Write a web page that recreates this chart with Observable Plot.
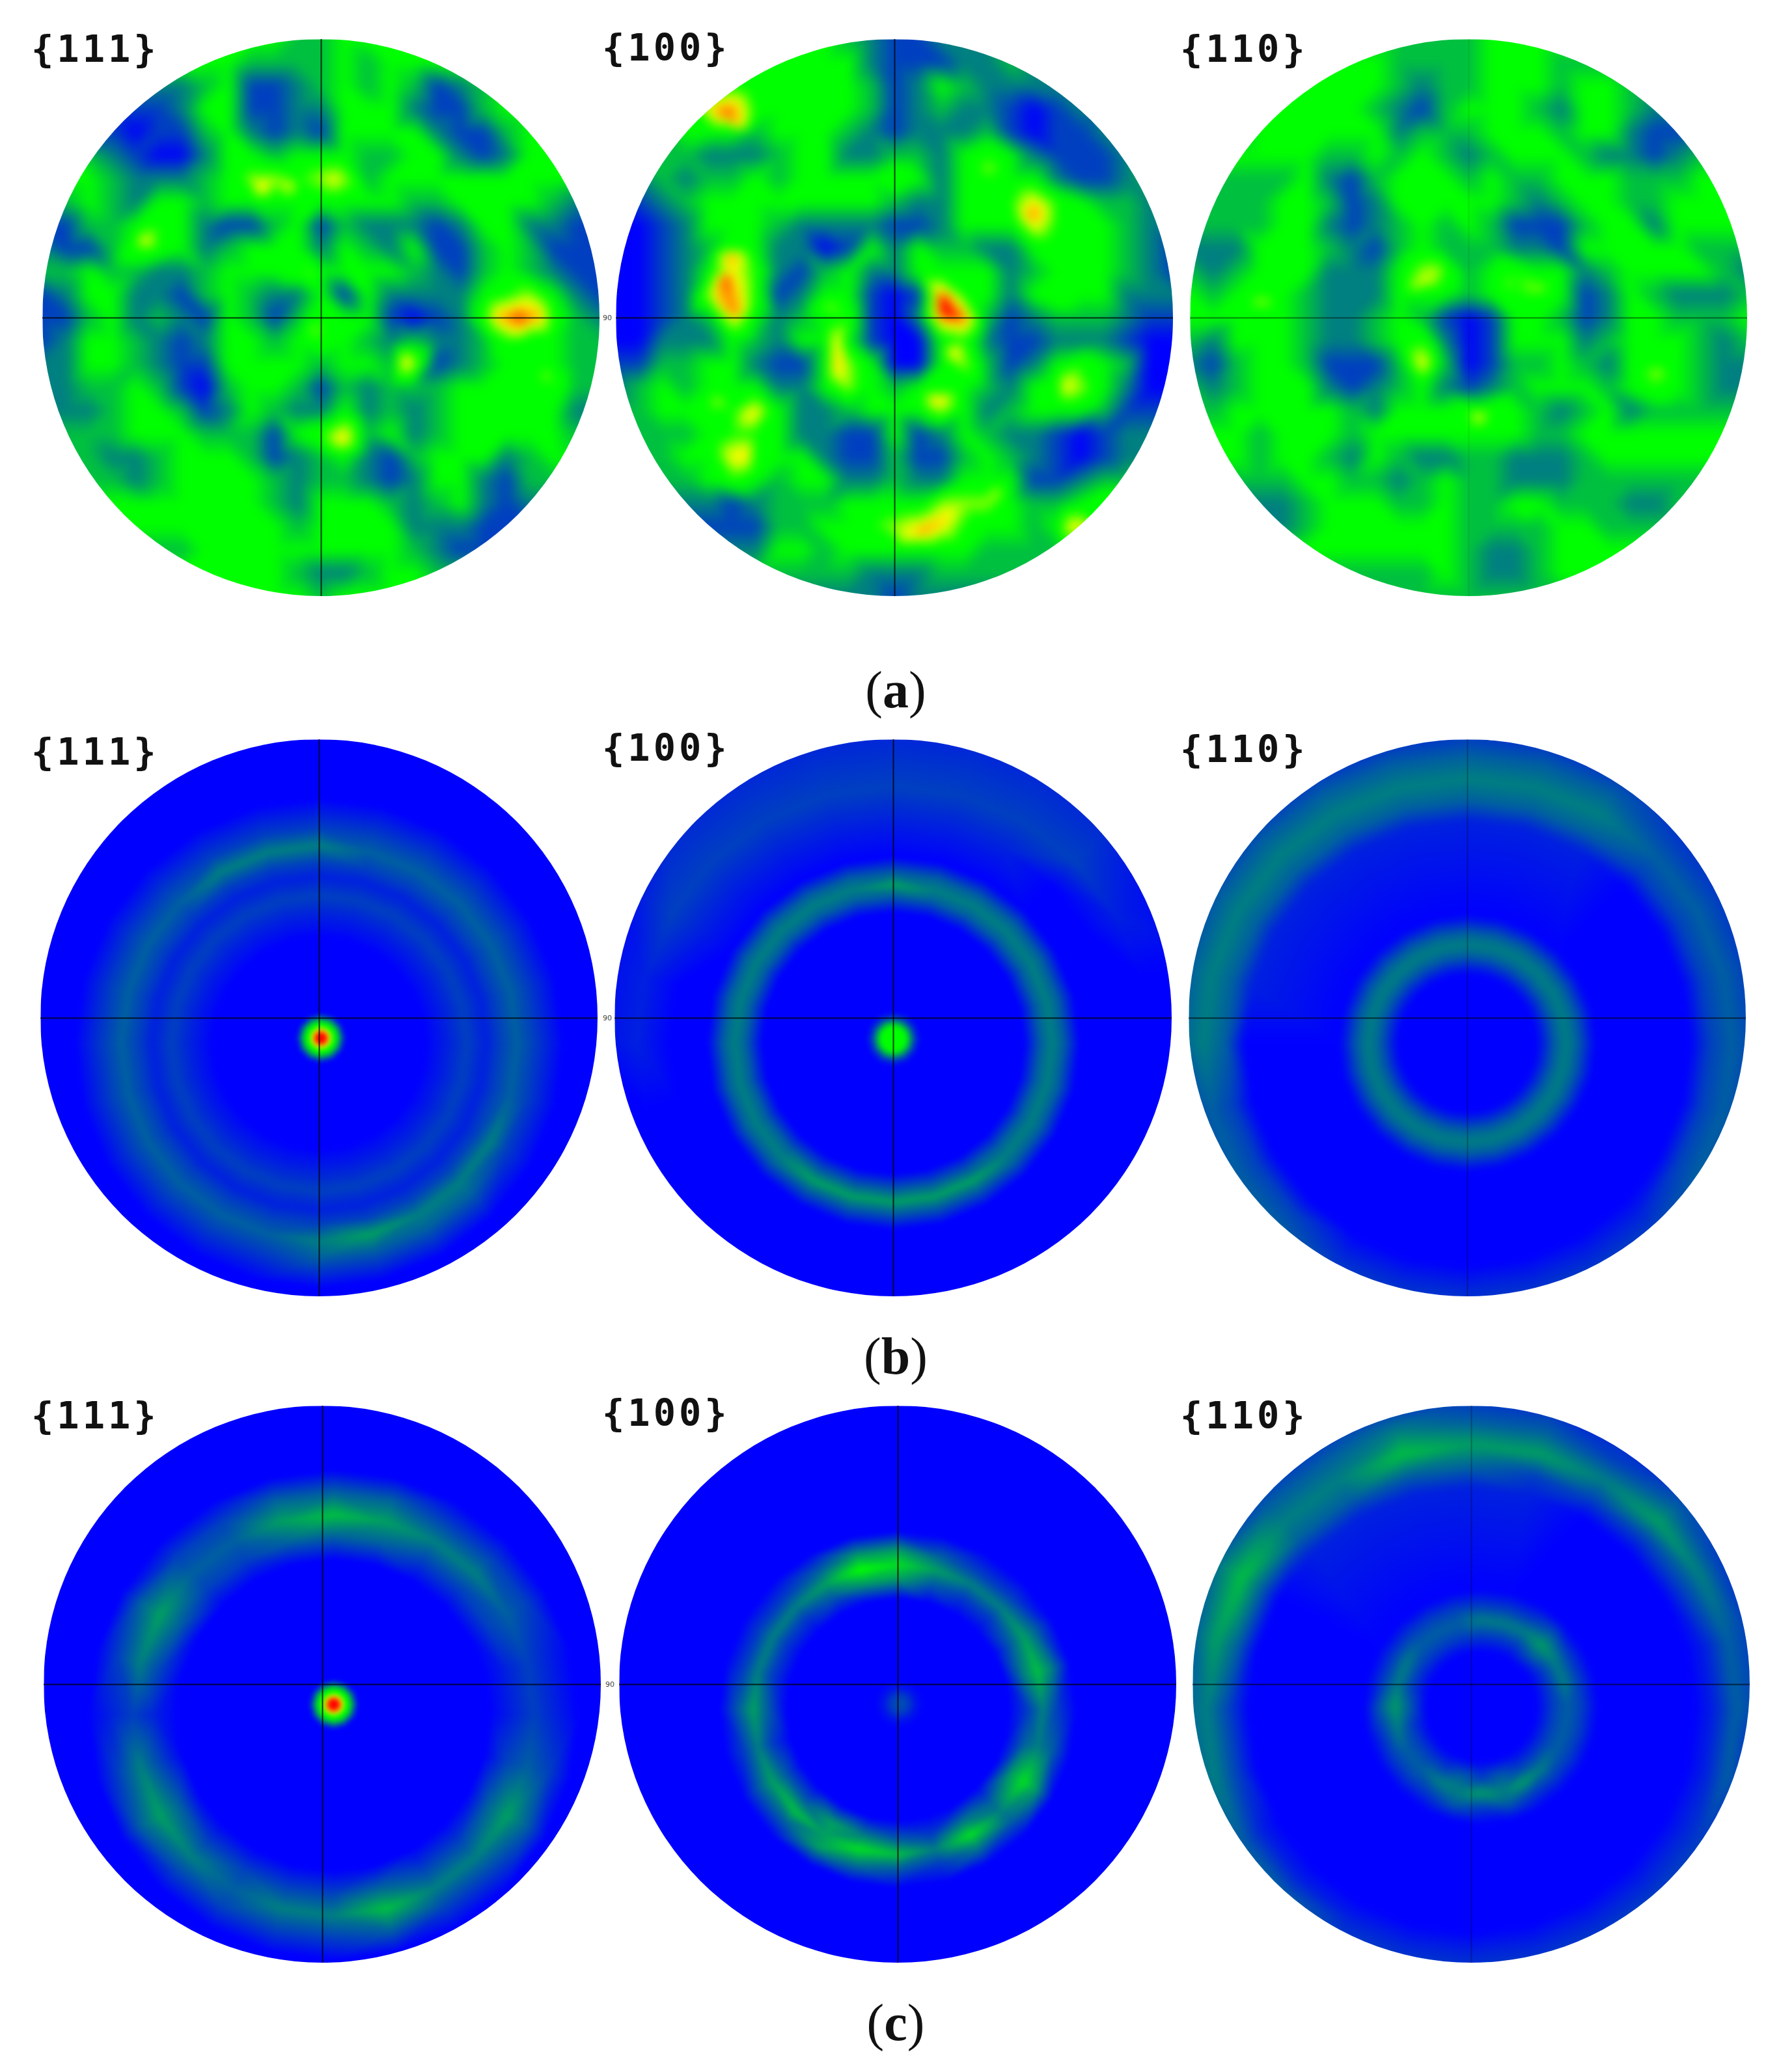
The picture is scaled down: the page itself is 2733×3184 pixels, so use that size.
<!DOCTYPE html>
<html><head><meta charset="utf-8">
<script src="https://cdn.jsdelivr.net/npm/d3@7"></script>
<script src="https://cdn.jsdelivr.net/npm/@observablehq/plot@0.6"></script>
<style>
html,body{margin:0;padding:0;background:#fff}
#page{position:relative;width:2733px;height:3184px;overflow:hidden;background:#fff}
.disc{position:absolute}
.disc svg{display:block;clip-path:circle(50%);background:transparent}
.lab{position:absolute;font-family:"DejaVu Sans Mono",monospace;font-weight:700;font-size:57px;letter-spacing:5px;color:#111;line-height:1;white-space:pre}
.cap{position:absolute;font-family:"Liberation Serif",serif;font-size:80px;color:#111;line-height:1;transform:translate(-50%,-50%);white-space:pre}
.tick{position:absolute;font-family:"DejaVu Sans",sans-serif;font-size:11px;color:#444;line-height:1;transform:translateY(-50%)}
</style></head><body><div id="page"></div>
<script>
// Level scale: 0 blue ... 2 teal ... 4-5 green ... 7 yellow ... 9 red
const levelDomain=[0,1,2,3,4,5,6,7,8,9];
const levelColors=["#0000ff","#0040c0","#008080","#00c040","#00ff00","#00ff00","#90ff00","#ffff00","#ff9000","#ff0000"];

// (a) intensity levels read on a 25 x 25 grid, top row first
const a111=[
"4444444444433444444444444","4444444443333434444444444","2222222341123434312344444",
"1111112441122444211344444","1111011342121444421134444","4432100244344433442124444",
"4443222346656634444444444","3343244344444444334444322","1133454211341322212442211",
"2113554234442432411343111","3343322344454444321343211","1244221343224142222456421",
"1134232143135441012588532","1244321244345432322354433","2244321144443443612344433",
"2233431034431323334444533","2223443124322423234444422","3333444333145734234444433",
"3332234443123421344423444","3333234444323321244213333","4444444444324443234212222",
"4444444444434444222111111","3333333444444444321111111","4444444444432234433333333",
"4444444444443444444444444"];
const a100=[
"4444444444321122222222222","4444444444421112232222222","4444454444431243222222222",
"4444785444431232210122222","3334443444321222310112222","3333222344223324542111222",
"2232334344445424544211233","1123444444443224457543322","0012444322221124447544322",
"0012354220142433224454321","0012475213422444423454321","0012685124410185424544222",
"0012374234510288312333211","0022243244410045211222100","1133442114640046312454300",
"2343444224643444324564200","3344557422344464234443111","3333455422114124322101222",
"3334475442113113432101222","3333454344223224441123333","2222212333444466643345444",
"1111111334456775443475444","2222222443444444333333333","3333333333322233333333333",
"2222222222221222222222222"];
const a110=[
"3333333333333444444444444","4444444443333444333333333","4444444443233444344333333",
"4444444432134443244322222","3334444442333444344211111","4444443343432344432212333",
"3333342134443433444333444","3333443124444432344334444","3333442123434311134424444",
"2224443213433322144444333","3234442224653454423444432","4345432224443455412432223",
"4444432234310144312443334","3244432234520144423444323","2134431113730133432454322",
"3234442123421234443454322","3344444324445543234233333","4443444344444443344444444",
"4443443243223322234444444","3333344332343322233333333","2222234443343344333223333",
"2222234444443333443333333","4444444444443223444444444","3333333333343223444444444",
"3333333333333333333333333"];

// (a) peak readings: x, y on the disc (-1..1) and level
const a111Peaks=[[-.215,.467,7.4],[-.107,.467,6.6],[.047,.494,6.9],[-.638,.266,7],[.711,.004,8.8],[.65,.004,8],[.77,.004,8],[.711,.05,7],[.711,-.05,7],[.306,-.157,7.4],[.078,-.43,7.6],[.812,-.204,5.9],[-.02,-.043,5.9],[-.034,.158,5.5]];
const a100Peaks=[[-.612,.736,8.5],[-.56,.69,7.5],[-.605,.145,8.7],[-.59,.22,8],[-.63,.06,7.5],[-.572,.017,8.2],[.166,.078,9],[.2,.017,9.3],[.17,.03,9],[.24,.0,8.5],[.495,.373,8.2],[.213,-.123,7.4],[-.209,-.17,7.6],[-.21,-.1,7.2],[.153,-.298,7.6],[.616,-.244,7],[-.505,-.338,7.4],[-.646,-.298,6],[-.538,-.493,7.4],[.099,-.761,8.1],[.18,-.72,7.4],[.03,-.79,6.6],[.361,-.627,6.2],[.636,-.754,7.2],[.341,.534,5.8],[-.236,.038,5.8]];
const a110Peaks=[[-.15,.138,6.6],[-.11,.17,6.2],[-.19,.11,6.2],[-.738,.062,6],[.252,.102,5.9],[.142,.125,5.6],[-.166,-.157,6.9],[.027,-.352,6.7],[.675,-.197,6],[.199,-.68,4.5]];

// (b),(c) ring tables: radius from ring centre, then half-levels at 24 bearings (15 degree steps, anticlockwise from east)
const zero="000000000000000000000000";
const b111=[[.38,zero],[.46,"111111111111111111111111"],[.53,"222222222222222222222222"],[.60,"111111111111111111111111"],
 [.65,"222222222222222222222222"],[.71,"333333444333333333454443"],[.77,"222222222222222222333322"],[.88,zero],[1.15,zero]];
const b100=[[.47,zero],[.53,"333333333333333333333333"],[.57,"444444544444444455555444"],[.61,"333333333333333333333333"],[.67,zero],
 [.80,"000011111110000000000000"],[.92,"001222222221100000000000"],[1.15,"000111111100000000000000"]];
const b110=[[.25,zero],[.315,"333333333333333333333333"],[.355,"444444444444444444444444"],[.395,"333333333333333333333333"],[.46,zero],
 [.80,"000011111111000000000000"],[.87,"222233333333322211111122"],[.95,"333344444444433322222233"],[1.03,"222233333333322211111122"],[1.15,"111111111111111111111111"]];
const c111=[[.56,zero],[.64,"112223332232123222232232"],[.72,"223445653354245434464453"],[.80,"112223332232123222232232"],[.88,zero],[1.15,zero]];
const c100=[[.40,zero],[.47,"243223553222323354324353"],[.52,"465445785444545657647474"],[.57,"243223553222323354324353"],[.64,zero],[1.15,zero]];
const c110=[[.20,zero],[.26,"222322222222322223232222"],[.31,"344544433344543344545433"],[.36,"222322222222322223232222"],[.42,zero],
 [.80,"000001111100000000000000"],[.87,"112222333333221111111111"],[.95,"334545564465443322222223"],[1.03,"222323343343332211111111"],[1.15,"111111111111111111111111"]];

// hot spots: radius from the spot centre and level
const spot111b=[[0,9.3],[.015,9.2],[.028,7.8],[.04,5.4],[.055,4],[.07,2.2],[.09,0]];
const spot100b=[[0,4.6],[.03,4.4],[.045,4],[.06,2.6],[.08,.8],[.1,0]];
const spot111c=[[0,9.3],[.015,9.2],[.028,7.8],[.04,5.4],[.055,4],[.07,2.2],[.09,0]];
const spot100c=[[0,1.3],[.03,1],[.06,.3],[.09,0]];

const labels=["{111}","{100}","{110}"];
const captions=["a","b","c"];
const rimMark="90";

// page layout
const R=428;
const discs=[
 {grid:a111,peaks:a111Peaks,cx:493,cy:488,v:1,h:1,lab:[48,47],name:0},
 {grid:a100,peaks:a100Peaks,cx:1374,cy:488,v:1,h:1,lab:[925,45],name:1},
 {grid:a110,peaks:a110Peaks,cx:2256,cy:488,v:.12,h:.6,lab:[1813,47],name:2},
 {rings:b111,ringAt:[0,-.09],spot:spot111b,spotAt:[.006,-.072],cx:490,cy:1564,v:1,h:1,lab:[48,1127],name:0},
 {rings:b100,ringAt:[0,-.09],spot:spot100b,spotAt:[0,-.075],cx:1372,cy:1564,v:1,h:1,lab:[925,1121],name:1},
 {rings:b110,ringAt:[0,-.09],cx:2254,cy:1564,v:.35,h:.8,lab:[1813,1123],name:2},
 {rings:c111,ringAt:[.04,-.11],spot:spot111c,spotAt:[.04,-.072],cx:495,cy:2588,v:1,h:1,lab:[48,2147],name:0},
 {rings:c100,ringAt:[0,-.09],spot:spot100c,spotAt:[.005,-.07],cx:1379,cy:2588,v:1,h:1,lab:[925,2143],name:1},
 {rings:c110,ringAt:[.035,-.08],outerAt:[0,-.09],cx:2260,cy:2588,v:.35,h:.8,lab:[1813,2147],name:2}
];
const capPos=[[1376,1060],[1376,2084],[1376,3108]];
const rimPos=[[926,488],[926,1564],[930,2588]];

function gridPoints(grid){
  const out=[];
  grid.forEach((row,j)=>{for(let i=0;i<row.length;i++)out.push({x:-1+i/12,y:1-j/12,v:+row[i]});});
  return out;
}
function ringPoints(table,[cx,cy],outerAt){
  const out=[];
  for(const [r,s] of table){
    const c=(outerAt&&r>.6)?outerAt:[cx,cy];
    for(let k=0;k<24;k++){
      const t=k*Math.PI/12;
      out.push({x:c[0]+r*Math.cos(t),y:c[1]+r*Math.sin(t),v:+s[k]/2});
    }
  }
  return out;
}
function spotPoints(table,[cx,cy]){
  const out=[];
  for(const [r,v] of table){
    if(r===0){out.push({x:cx,y:cy,v});continue;}
    for(let k=0;k<12;k++){const t=k*Math.PI/6;out.push({x:cx+r*Math.cos(t),y:cy+r*Math.sin(t),v});}
  }
  return out;
}

const page=document.getElementById("page");
for(const d of discs){
  let pts;
  if(d.grid) pts=gridPoints(d.grid).concat(d.peaks.map(([x,y,v])=>({x,y,v})));
  else {
    pts=ringPoints(d.rings,d.ringAt,d.outerAt);
    if(d.spot) pts=pts.concat(spotPoints(d.spot,d.spotAt));
    else pts.push({x:d.ringAt[0],y:d.ringAt[1],v:0});
  }
  const svg=Plot.plot({
    width:2*R,height:2*R,margin:0,inset:0,
    x:{domain:[-1,1],axis:null},y:{domain:[-1,1],axis:null},
    color:{type:"linear",domain:levelDomain,range:levelColors,interpolate:"rgb",clamp:true},
    marks:[
      Plot.raster(pts,{x:"x",y:"y",fill:"v",interpolate:"barycentric",pixelSize:1,blur:d.grid?7:(d.spot?3:5),imageRendering:"auto"}),
      Plot.ruleX([0],{stroke:"#000",strokeWidth:2,strokeOpacity:.75*d.v}),
      Plot.ruleY([0],{stroke:"#000",strokeWidth:2,strokeOpacity:.75*d.h})
    ]
  });
  const box=document.createElement("div");
  box.className="disc";
  box.style.left=(d.cx-R)+"px";box.style.top=(d.cy-R)+"px";
  box.appendChild(svg);page.appendChild(box);
  const l=document.createElement("div");
  l.className="lab";l.textContent=labels[d.name];
  l.style.left=d.lab[0]+"px";l.style.top=d.lab[1]+"px";
  page.appendChild(l);
}
captions.forEach((c,i)=>{
  const e=document.createElement("div");e.className="cap";
  e.innerHTML="(<b>"+c+"</b>)";
  e.style.left=capPos[i][0]+"px";e.style.top=capPos[i][1]+"px";
  page.appendChild(e);
  const t=document.createElement("div");t.className="tick";t.textContent=rimMark;
  t.style.left=rimPos[i][0]+"px";t.style.top=rimPos[i][1]+"px";
  page.appendChild(t);
});
</script></body></html>
